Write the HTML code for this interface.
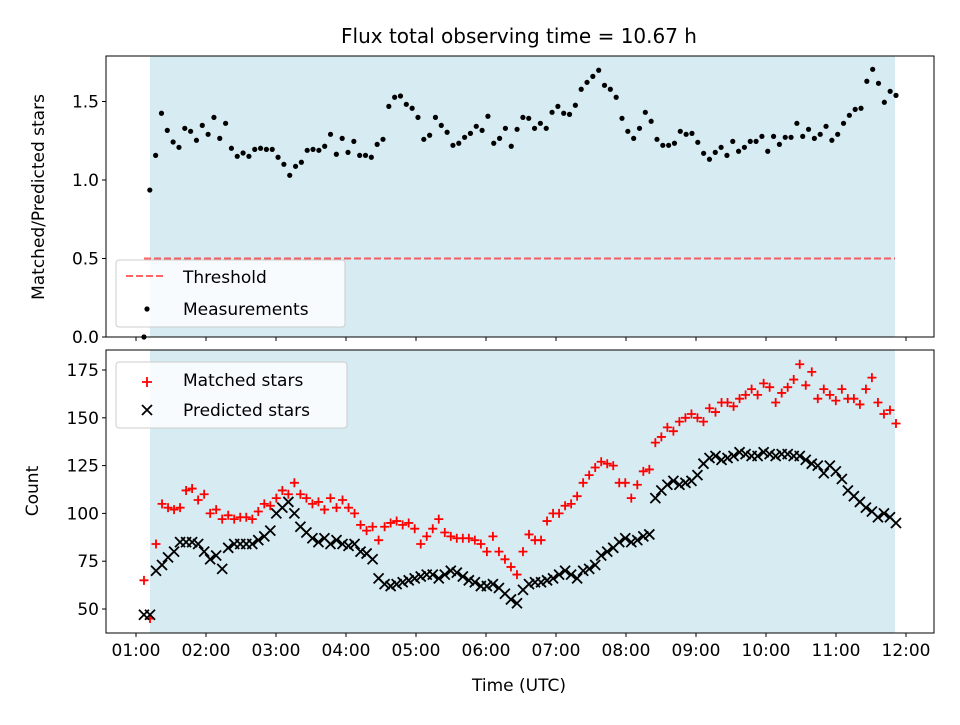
<!DOCTYPE html>
<html><head><meta charset="utf-8"><style>
body{margin:0;background:#fff;}
svg text{font-family:"DejaVu Sans","Liberation Sans",sans-serif;fill:#000;}
</style></head><body>
<svg id="c" width="960" height="720" xmlns="http://www.w3.org/2000/svg"></svg>
<script>
const ratioValues=[0,0.936,1.157,1.425,1.316,1.242,1.208,1.329,1.310,1.253,1.348,1.291,1.399,1.265,1.361,1.202,1.151,1.172,1.151,1.195,1.202,1.195,1.195,1.145,1.100,1.030,1.087,1.113,1.189,1.195,1.189,1.215,1.291,1.164,1.265,1.176,1.246,1.157,1.157,1.145,1.227,1.259,1.469,1.527,1.535,1.482,1.457,1.399,1.259,1.285,1.399,1.348,1.304,1.221,1.234,1.272,1.297,1.342,1.316,1.406,1.234,1.265,1.329,1.215,1.323,1.399,1.393,1.329,1.361,1.329,1.431,1.469,1.425,1.418,1.476,1.578,1.622,1.660,1.699,1.603,1.578,1.527,1.393,1.310,1.265,1.329,1.431,1.374,1.259,1.221,1.221,1.234,1.310,1.291,1.297,1.240,1.170,1.132,1.176,1.208,1.157,1.246,1.183,1.208,1.246,1.246,1.278,1.183,1.278,1.227,1.272,1.272,1.361,1.278,1.323,1.265,1.291,1.342,1.253,1.291,1.361,1.412,1.450,1.457,1.629,1.705,1.616,1.495,1.565,1.539];
const matchedValues=[65,45,84,105,103,102,103,112,113,107,110,100,102,97,99,97,98,98,97,101,105,104,108,112,110,116,110,108,105,106,102,108,103,107,103,100,94,91,93,86,93,95,96,94,95,92,84,88,92,97,90,88,87,87,87,86,84,80,88,80,76,72,68,80,89,86,86,96,100,100,104,105,109,116,120,124,127,126,125,116,116,108,115,122,123,137,140,145,143,148,150,152,150,148,155,153,158,158,156,160,162,165,162,168,166,158,163,166,170,178,167,174,160,165,162,159,165,160,160,157,165,171,158,152,154,147];
const predictedValues=[47,47,70,73,77,80,85,85,85,84,80,76,78,71,82,84,84,84,84,86,88,91,100,103,106,100,93,90,87,85,87,84,86,84,83,84,80,79,76,66,63,62,63,64,65,66,67,68,68,66,68,70,69,67,65,64,62,62,63,61,58,55,53,60,63,64,64,65,66,68,70,68,66,70,71,73,78,80,82,85,87,85,86,88,89,108,112,115,117,115,116,117,120,126,129,130,128,129,130,132,131,130,130,132,131,130,131,131,130,130,128,126,125,121,125,122,118,112,109,106,103,101,98,100,98,95];
const xTickLabels=["01:00","02:00","03:00","04:00","05:00","06:00","07:00","08:00","09:00","10:00","11:00","12:00"];
const topTicks=[0,0.5,1.0,1.5];
const botTicks=[50,75,100,125,150,175];
const threshold=0.5;
const tStart=1.114, tEnd=11.857;

const svg=document.getElementById('c');
const NS='http://www.w3.org/2000/svg';
function mk(tag,attrs,parent,name,inter){const e=document.createElementNS(NS,tag);for(const k in attrs)e.setAttribute(k,attrs[k]);


(parent||svg).appendChild(e);return e;}
const X0=106,X1=934;
const FS=17;
const xs=t=>136+(t-1)*70;
const yTop=v=>337-v*157;
const yBot=v=>609-(v-50)*1.912;
function timeAt(i,n){return tStart+(tEnd-tStart)*i/(n-1);}

[[56,337,'top'],[350,633,'bottom']].forEach(([a,b,n])=>{
 mk('rect',{x:X0,y:a,width:X1-X0,height:b-a,fill:'#fff'},svg,n+'-plot-area');
 mk('rect',{x:150,y:a,width:895-150,height:b-a,fill:'#add8e6','fill-opacity':0.5},svg,n+'-observing-window');
});
mk('line',{x1:144,x2:895,y1:yTop(threshold),y2:yTop(threshold),stroke:'#ff0000','stroke-opacity':0.6,'stroke-width':2,'stroke-dasharray':'7,3'},svg,'threshold-line');
const gT=mk('g',{},svg,'measurements-series');
ratioValues.forEach((v,i)=>{mk('circle',{cx:xs(timeAt(i,ratioValues.length)),cy:yTop(v),r:2.6,fill:'#000'},gT,'measurement-point');});
const gM=mk('g',{},svg,'matched-series');
matchedValues.forEach((v,i)=>{const x=xs(timeAt(i,matchedValues.length)),y=yBot(v);
 mk('path',{d:`M${x-4.5},${y}H${x+4.5}M${x},${y-4.5}V${y+4.5}`,stroke:'#ff0000','stroke-width':1.8},gM,'matched-point');});
const gP=mk('g',{},svg,'predicted-series');
predictedValues.forEach((v,i)=>{const x=xs(timeAt(i,predictedValues.length)),y=yBot(v);
 mk('path',{d:`M${x-5},${y-5}L${x+5},${y+5}M${x-5},${y+5}L${x+5},${y-5}`,stroke:'#000','stroke-width':1.8},gP,'predicted-point');});
mk('rect',{x:X0,y:56,width:X1-X0,height:281,fill:'none',stroke:'#000','stroke-width':1},svg,'top-axes-frame');
mk('rect',{x:X0,y:350,width:X1-X0,height:283,fill:'none',stroke:'#000','stroke-width':1},svg,'bottom-axes-frame');
xTickLabels.forEach((l,i)=>{const x=xs(i+1);
 mk('line',{x1:x,x2:x,y1:337,y2:341,stroke:'#000'},svg,'top-x-tick');
 mk('line',{x1:x,x2:x,y1:633,y2:637,stroke:'#000'},svg,'x-tick');
 const t=mk('text',{x:x,y:656,'font-size':FS,'text-anchor':'middle'},svg,'x-tick-label');t.textContent=l;});
topTicks.forEach(v=>{const y=yTop(v);
 mk('line',{x1:X0-4,x2:X0,y1:y,y2:y,stroke:'#000'},svg,'top-y-tick');
 const t=mk('text',{x:X0-7,y:y+6,'font-size':FS,'text-anchor':'end'},svg,'top-y-tick-label');t.textContent=v.toFixed(1);});
botTicks.forEach(v=>{const y=yBot(v);
 mk('line',{x1:X0-4,x2:X0,y1:y,y2:y,stroke:'#000'},svg,'bottom-y-tick');
 const t=mk('text',{x:X0-7,y:y+6,'font-size':FS,'text-anchor':'end'},svg,'bottom-y-tick-label');t.textContent=v;});
let t=mk('text',{x:519,y:43,'font-size':20,'text-anchor':'middle'},svg,'chart-title');t.textContent='Flux total observing time = 10.67 h';
t=mk('text',{x:519,y:691,'font-size':FS,'text-anchor':'middle'},svg,'x-axis-title');t.textContent='Time (UTC)';
t=mk('text',{x:0,y:0,'font-size':FS,'text-anchor':'middle',transform:'translate(44,197) rotate(-90)'},svg,'top-y-axis-title');t.textContent='Matched/Predicted stars';
t=mk('text',{x:0,y:0,'font-size':FS,'text-anchor':'middle',transform:'translate(38,491) rotate(-90)'},svg,'bottom-y-axis-title');t.textContent='Count';
const L1=mk('g',{},svg,'top-legend');
mk('rect',{x:116,y:260,width:229,height:67,rx:3,fill:'#fff','fill-opacity':0.8,stroke:'#ccc'},L1,'top-legend-box');
mk('line',{x1:126,x2:166,y1:276,y2:276,stroke:'#ff0000','stroke-opacity':0.6,'stroke-width':2,'stroke-dasharray':'7,3'},L1,'threshold-legend-swatch');
t=mk('text',{x:183,y:283,'font-size':FS},L1,'threshold-legend-label');t.textContent='Threshold';
mk('circle',{cx:147,cy:309,r:2.6,fill:'#000'},L1,'measurements-legend-swatch');
t=mk('text',{x:183,y:315,'font-size':FS},L1,'measurements-legend-label');t.textContent='Measurements';
const L2=mk('g',{},svg,'bottom-legend');
mk('rect',{x:116,y:362,width:231,height:66,rx:3,fill:'#fff','fill-opacity':0.8,stroke:'#ccc'},L2,'bottom-legend-box');
mk('path',{d:'M142,382H152M147,377V387',stroke:'#ff0000','stroke-width':1.8},L2,'matched-legend-swatch');
t=mk('text',{x:183,y:386,'font-size':FS},L2,'matched-legend-label');t.textContent='Matched stars';
mk('path',{d:'M142,405L152,415M142,415L152,405',stroke:'#000','stroke-width':1.8},L2,'predicted-legend-swatch');
t=mk('text',{x:183,y:416,'font-size':FS},L2,'predicted-legend-label');t.textContent='Predicted stars';
</script>
</body></html>
